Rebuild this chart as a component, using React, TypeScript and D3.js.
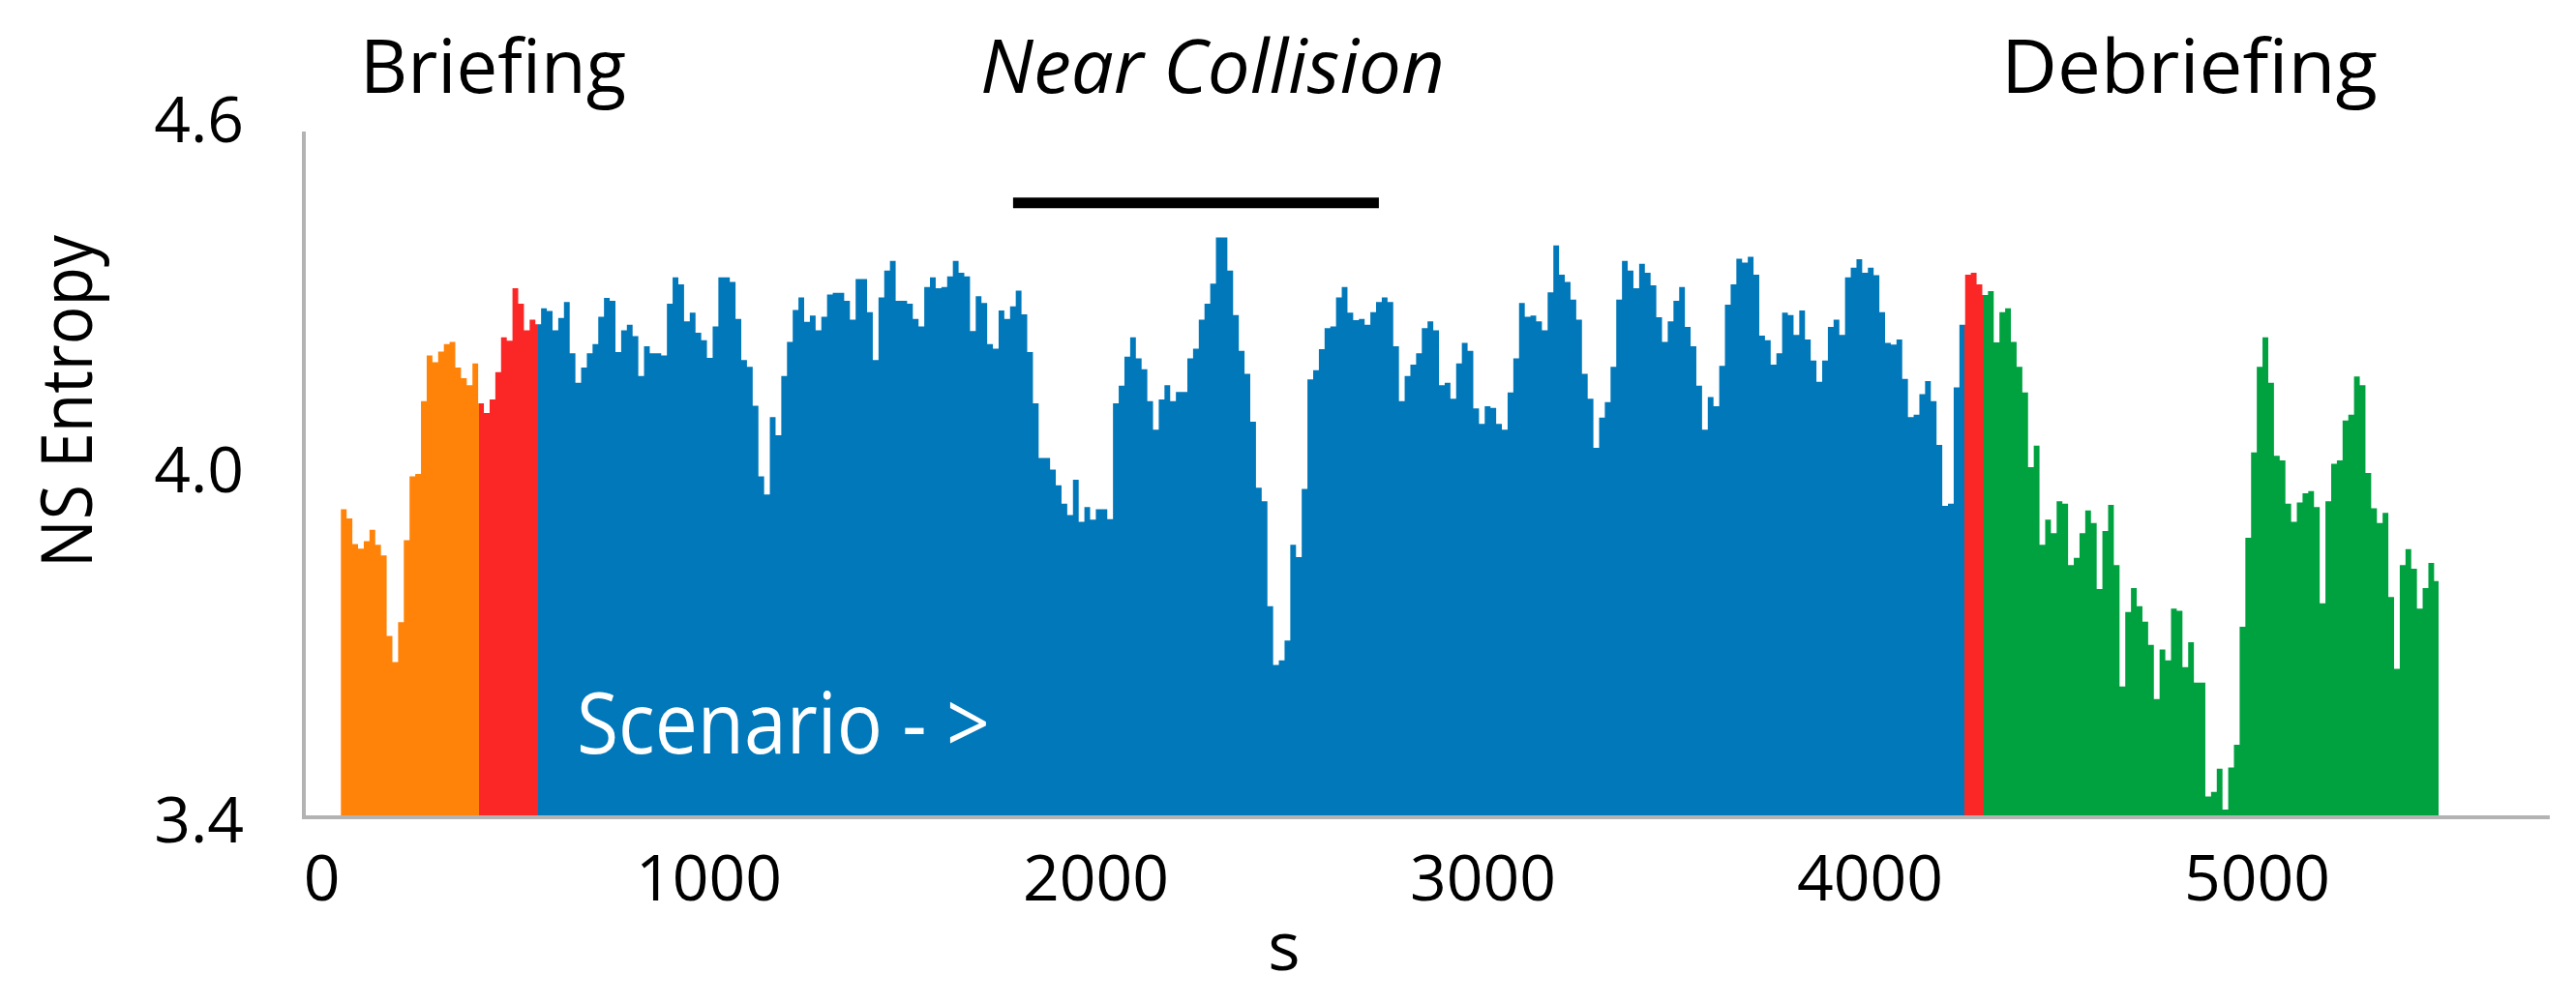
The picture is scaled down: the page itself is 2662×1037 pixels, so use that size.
import React, { useEffect } from "react";
import * as d3 from "d3";

const W = 2662;
const H = 1037;

// sampling of the entropy trace (seconds)
const T0 = 49.5;
const DT = 14.775;
const T_END = 5469;

// NS entropy values, one per sample
const entropy: number[] = [
  3.937, 3.921, 3.876, 3.868, 3.881, 3.901, 3.875, 3.856, 3.715, 3.669,
  3.739, 3.883, 3.995, 3.999, 4.127, 4.207, 4.195, 4.214, 4.227, 4.231,
  4.186, 4.167, 4.155, 4.193, 4.123, 4.106, 4.130, 4.178, 4.239, 4.233,
  4.325, 4.298, 4.251, 4.270, 4.262, 4.290, 4.285, 4.251, 4.273, 4.301,
  4.211, 4.159, 4.186, 4.211, 4.227, 4.275, 4.308, 4.303, 4.213, 4.251,
  4.261, 4.241, 4.171, 4.223, 4.211, 4.211, 4.207, 4.298, 4.344, 4.332,
  4.267, 4.282, 4.247, 4.234, 4.203, 4.258, 4.344, 4.344, 4.336, 4.271,
  4.199, 4.187, 4.119, 3.995, 3.963, 4.099, 4.067, 4.171, 4.231, 4.287,
  4.309, 4.266, 4.277, 4.251, 4.275, 4.314, 4.317, 4.317, 4.303, 4.270,
  4.341, 4.341, 4.283, 4.199, 4.309, 4.356, 4.373, 4.303, 4.303, 4.298,
  4.271, 4.258, 4.327, 4.344, 4.325, 4.327, 4.346, 4.373, 4.352, 4.346,
  4.250, 4.311, 4.299, 4.227, 4.219, 4.286, 4.271, 4.293, 4.321, 4.279,
  4.213, 4.123, 4.027, 4.027, 4.007, 3.979, 3.947, 3.927, 3.989, 3.915,
  3.941, 3.919, 3.937, 3.937, 3.920, 4.123, 4.154, 4.205, 4.239, 4.202,
  4.183, 4.127, 4.077, 4.130, 4.155, 4.127, 4.143, 4.143, 4.202, 4.219,
  4.270, 4.298, 4.333, 4.414, 4.414, 4.356, 4.278, 4.215, 4.175, 4.091,
  3.975, 3.951, 3.767, 3.664, 3.672, 3.707, 3.875, 3.853, 3.973, 4.165,
  4.181, 4.218, 4.255, 4.258, 4.309, 4.327, 4.282, 4.269, 4.271, 4.261,
  4.283, 4.301, 4.309, 4.301, 4.223, 4.127, 4.171, 4.191, 4.211, 4.255,
  4.267, 4.251, 4.155, 4.159, 4.131, 4.193, 4.229, 4.215, 4.114, 4.087,
  4.118, 4.115, 4.087, 4.077, 4.142, 4.202, 4.299, 4.275, 4.277, 4.267,
  4.251, 4.318, 4.400, 4.349, 4.336, 4.305, 4.270, 4.175, 4.131, 4.045,
  4.098, 4.125, 4.187, 4.305, 4.373, 4.356, 4.325, 4.368, 4.352, 4.330,
  4.274, 4.231, 4.267, 4.303, 4.327, 4.257, 4.223, 4.154, 4.077, 4.134,
  4.118, 4.189, 4.296, 4.332, 4.377, 4.370, 4.380, 4.349, 4.242, 4.234,
  4.191, 4.211, 4.282, 4.278, 4.243, 4.286, 4.235, 4.198, 4.161, 4.198,
  4.257, 4.270, 4.243, 4.344, 4.361, 4.376, 4.352, 4.361, 4.348, 4.283,
  4.229, 4.226, 4.235, 4.166, 4.099, 4.103, 4.139, 4.162, 4.127, 4.050,
  3.943, 3.947, 4.151, 4.261, 4.349, 4.352, 4.332, 4.313, 4.320, 4.230,
  4.283, 4.290, 4.231, 4.187, 4.142, 4.011, 4.049, 3.875, 3.919, 3.895,
  3.951, 3.947, 3.839, 3.852, 3.895, 3.935, 3.913, 3.797, 3.899, 3.945,
  3.839, 3.626, 3.757, 3.799, 3.767, 3.740, 3.699, 3.604, 3.691, 3.672,
  3.763, 3.759, 3.660, 3.704, 3.633, 3.633, 3.433, 3.441, 3.482, 3.410,
  3.484, 3.524, 3.731, 3.887, 4.037, 4.187, 4.239, 4.159, 4.031, 4.023,
  3.947, 3.915, 3.949, 3.965, 3.969, 3.941, 3.772, 3.951, 4.017, 4.023,
  4.093, 4.103, 4.170, 4.155, 4.001, 3.939, 3.913, 3.931, 3.783, 3.657,
  3.839, 3.867, 3.833, 3.763, 3.799, 3.843, 3.811,
];

// phases of the session (seconds)
const phaseNames = ["Briefing", "Transition", "Scenario", "Transition", "Debriefing"];
const phaseStarts = [49.5, 406.2, 558.8, 4243.7, 4292.9];
const phaseEnds = [406.2, 558.8, 4243.7, 4292.9, T_END];

// near-collision interval (seconds) and the level of its marker bar
const nearCollision = [1786, 2731];
const nearCollisionLevel = 4.475;

// axes
const xTicks = [0, 1000, 2000, 3000, 4000, 5000];
const yTicks = [3.4, 4.0, 4.6];
const xAxisExtent = [-51, 5756];
const yDomain = [3.4, 4.6];

// section headings
const headings = ["Briefing", "Near Collision", "Debriefing"];

const phaseColors = ["#FF8309", "#FB2727", "#0078BA", "#FB2727", "#00A13F"];
const FONT = "'Open Sans', 'Noto Sans', sans-serif";

export default function App() {
  useEffect(() => {
    document.body.style.margin = "0";
    document.body.style.overflow = "hidden";
  }, []);

  const x = d3.scaleLinear().domain([0, 5000]).range([332.5, 2332.5]);
  const y = d3.scaleLinear().domain(yDomain).range([843, 136]);
  // tick labels in the original sit on a slightly wider spacing than the ticks
  const yLabel = d3.scaleLinear().domain(yDomain).range([871, 146.5]);

  const pts: [number, number][] = entropy.map((v, i) => [T0 + i * DT, v]);
  pts.push([T_END, entropy[entropy.length - 1]]);

  const area = d3
    .area<[number, number]>()
    .x((d) => x(d[0]))
    .y0(y(yDomain[0]))
    .y1((d) => y(d[1]))
    .curve(d3.curveStepAfter);
  const pathD = area(pts) || "";

  const headingPos = [
    { x: 372, len: 275, italic: false },
    { x: 1013, len: 480, italic: true },
    { x: 2068, len: 389, italic: false },
  ];

  return (
    <svg
      width={W}
      height={H}
      viewBox={`0 0 ${W} ${H}`}
      style={{ position: "absolute", left: 0, top: 0, background: "#fff" }}
      fontFamily={FONT}
    >
      <defs>
        {phaseNames.map((n, k) => {
          const x0 = Math.round(x(phaseStarts[k]));
          const x1 = Math.round(x(phaseEnds[k]));
          return (
            <clipPath id={`phase-${k}`} key={k}>
              <rect x={x0} y={0} width={x1 - x0} height={H} />
            </clipPath>
          );
        })}
      </defs>

      {phaseNames.map((n, k) => (
        <path key={k} d={pathD} fill={phaseColors[k]} clipPath={`url(#phase-${k})`} />
      ))}

      {/* axes */}
      <line x1={314} x2={314} y1={y(yDomain[1])} y2={847} stroke="#b3b3b3" strokeWidth={4} />
      <line
        x1={x(xAxisExtent[0])}
        x2={x(xAxisExtent[1])}
        y1={845}
        y2={845}
        stroke="#b3b3b3"
        strokeWidth={4}
      />

      {yTicks.map((t) => (
        <text key={t} x={252} y={yLabel(t)} textAnchor="end" fontSize={66} fill="#000">
          {t.toFixed(1)}
        </text>
      ))}
      {xTicks.map((t) => (
        <text key={t} x={x(t)} y={931} textAnchor="middle" fontSize={66} fill="#000">
          {t}
        </text>
      ))}

      <text x={1327} y={1003} textAnchor="middle" fontSize={70} fill="#000">
        s
      </text>
      <text
        transform="translate(95,415) rotate(-90)"
        textAnchor="middle"
        fontSize={73}
        fill="#000"
        textLength={344}
        lengthAdjust="spacingAndGlyphs"
      >
        NS Entropy
      </text>

      {/* near collision marker */}
      <line
        x1={x(nearCollision[0])}
        x2={x(nearCollision[1])}
        y1={y(nearCollisionLevel)}
        y2={y(nearCollisionLevel)}
        stroke="#000"
        strokeWidth={11}
      />

      {headings.map((h, i) => (
        <text
          key={h}
          x={headingPos[i].x}
          y={96}
          fontSize={77}
          fontStyle={headingPos[i].italic ? "italic" : "normal"}
          fill="#000"
          textLength={headingPos[i].len}
          lengthAdjust="spacingAndGlyphs"
        >
          {h}
        </text>
      ))}

      <text
        x={596}
        y={779}
        fontSize={88}
        fill="#fff"
        textLength={427}
        lengthAdjust="spacingAndGlyphs"
      >
        {"Scenario - >"}
      </text>
    </svg>
  );
}
